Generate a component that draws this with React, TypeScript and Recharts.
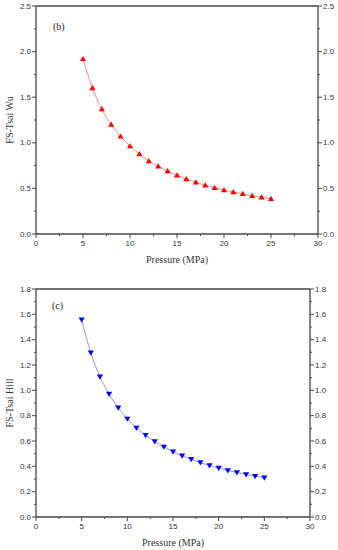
import React from 'react';
import { LineChart, Line, XAxis, YAxis, ReferenceLine } from 'recharts';

const pressure = [5, 6, 7, 8, 9, 10, 11, 12, 13, 14, 15, 16, 17, 18, 19, 20, 21, 22, 23, 24, 25];
const tsaiWu = [1.92, 1.6, 1.37, 1.2, 1.07, 0.965, 0.876, 0.8, 0.742, 0.69, 0.643, 0.603, 0.567, 0.535, 0.507, 0.482, 0.46, 0.44, 0.42, 0.403, 0.387];
const tsaiHill = [1.557, 1.297, 1.108, 0.972, 0.862, 0.775, 0.703, 0.646, 0.596, 0.554, 0.516, 0.483, 0.456, 0.43, 0.407, 0.387, 0.368, 0.352, 0.335, 0.322, 0.31];

const xTicks = [0, 2.5, 5, 7.5, 10, 12.5, 15, 17.5, 20, 22.5, 25, 27.5, 30];
const xMajor = [0, 5, 10, 15, 20, 25, 30];
const yTicksB = [0, 0.25, 0.5, 0.75, 1.0, 1.25, 1.5, 1.75, 2.0, 2.25, 2.5];
const yMajorB = [0, 0.5, 1.0, 1.5, 2.0, 2.5];
const yTicksC = [0, 0.1, 0.2, 0.3, 0.4, 0.5, 0.6, 0.7, 0.8, 0.9, 1.0, 1.1, 1.2, 1.3, 1.4, 1.5, 1.6, 1.7, 1.8];
const yMajorC = [0, 0.2, 0.4, 0.6, 0.8, 1.0, 1.2, 1.4, 1.6, 1.8];

const dataB = pressure.map((p, i) => ({ p, v: tsaiWu[i] }));
const dataC = pressure.map((p, i) => ({ p, v: tsaiHill[i] }));

const AXIS = '#444';
const TICKFONT = '"Liberation Sans", Arial, sans-serif';
const SERIF = '"Liberation Serif", "Times New Roman", serif';

const isMajor = (list: number[], v: number) => list.some((m) => Math.abs(m - v) < 1e-6);

const XTick = (props: any) => {
  const { x, y, payload } = props;
  const major = isMajor(xMajor, payload.value);
  return (
    <g>
      <line x1={x} x2={x} y1={y} y2={y + (major ? 4 : 2)} stroke={AXIS} strokeWidth={1} />
      {major && (
        <text x={x} y={y + 9} textAnchor="middle" dominantBaseline="central" fontSize={8} fontFamily={TICKFONT} fill="#333" stroke="none">
          {payload.value}
        </text>
      )}
    </g>
  );
};

const makeYTick = (majors: number[], side: 'left' | 'right') => (props: any) => {
  const { x, y, payload } = props;
  const major = isMajor(majors, payload.value);
  const dir = side === 'left' ? -1 : 1;
  return (
    <g>
      <line x1={x} x2={x + dir * (major ? 4 : 2)} y1={y} y2={y} stroke={AXIS} strokeWidth={1} />
      {major && (
        <text x={x + dir * 5} y={y} textAnchor={side === 'left' ? 'end' : 'start'} dominantBaseline="central" fontSize={8} fontFamily={TICKFONT} fill="#333" stroke="none">
          {payload.value.toFixed(1)}
        </text>
      )}
    </g>
  );
};

const triUp = (color: string) => (props: any) => {
  const { cx, cy, index } = props;
  return <path key={`u${index}`} d={`M${cx},${cy - 3} L${cx - 3.1},${cy + 2.2} L${cx + 3.1},${cy + 2.2} Z`} fill={color} stroke="none" />;
};
const triDown = (color: string) => (props: any) => {
  const { cx, cy, index } = props;
  return <path key={`d${index}`} d={`M${cx},${cy + 3} L${cx - 3.1},${cy - 2.2} L${cx + 3.1},${cy - 2.2} Z`} fill={color} stroke="none" />;
};

const yLabel = (text: string) => (props: any) => {
  const vb = props.viewBox || {};
  const cx = 9;
  const cy = vb.y + vb.height / 2;
  return (
    <g>
      <text x={cx} y={cy} transform={`rotate(-90, ${cx}, ${cy})`} textAnchor="middle" dominantBaseline="central" fontSize={10} fontFamily={SERIF} fill="#333" stroke="none">
        {text}
      </text>
    </g>
  );
};

const xLabelProps = (offset: number) => ({
  value: 'Pressure (MPa)',
  position: 'insideBottom' as const,
  offset,
  fontSize: 10,
  fontFamily: SERIF,
  fill: '#333',
  stroke: 'none',
});

export default function App() {
  return (
    <div style={{ position: 'absolute', left: 0, top: 0, width: 338, height: 550, background: '#fff' }}>
      <LineChart width={338} height={275} data={dataB} margin={{ top: 6, right: 0, bottom: 0, left: 0 }}>
        <XAxis dataKey="p" type="number" domain={[0, 30]} ticks={xTicks} interval={0} height={41}
          tick={XTick} tickLine={false} tickSize={0} tickMargin={0}
          axisLine={{ stroke: AXIS, strokeWidth: 1.3 }} label={xLabelProps(12)} />
        <YAxis yAxisId="left" type="number" domain={[0, 2.5]} ticks={yTicksB} interval={0} width={36}
          tick={makeYTick(yMajorB, 'left')} tickLine={false} tickSize={0} tickMargin={0}
          axisLine={{ stroke: AXIS, strokeWidth: 1.3 }} label={yLabel('FS-Tsai Wu')} />
        <YAxis yAxisId="right" orientation="right" type="number" domain={[0, 2.5]} ticks={yTicksB} interval={0} width={20}
          tick={makeYTick(yMajorB, 'right')} tickLine={false} tickSize={0} tickMargin={0}
          axisLine={{ stroke: AXIS, strokeWidth: 1.3 }} allowDataOverflow />
        <ReferenceLine yAxisId="left" y={2.5} stroke={AXIS} strokeWidth={1.3} />
        <ReferenceLine yAxisId="left" y={2.5} stroke="none"
          label={{ value: '(b)', position: 'insideTopLeft', offset: 0, dx: 17, dy: 17, fontSize: 10, fontFamily: SERIF, fill: '#222' }} />
        <Line yAxisId="left" type="monotone" dataKey="v" stroke="#ff8c8c" strokeWidth={1} dot={triUp('#ff0000')} isAnimationActive={false} />
      </LineChart>
      <LineChart width={338} height={275} data={dataC} margin={{ top: 14, right: 0, bottom: 0, left: 0 }}>
        <XAxis dataKey="p" type="number" domain={[0, 30]} ticks={xTicks} interval={0} height={33}
          tick={XTick} tickLine={false} tickSize={0} tickMargin={0}
          axisLine={{ stroke: AXIS, strokeWidth: 1.3 }} label={xLabelProps(4)} />
        <YAxis yAxisId="left" type="number" domain={[0, 1.8]} ticks={yTicksC} interval={0} width={36}
          tick={makeYTick(yMajorC, 'left')} tickLine={false} tickSize={0} tickMargin={0}
          axisLine={{ stroke: AXIS, strokeWidth: 1.3 }} label={yLabel('FS-Tsai Hill')} />
        <YAxis yAxisId="right" orientation="right" type="number" domain={[0, 1.8]} ticks={yTicksC} interval={0} width={28}
          tick={makeYTick(yMajorC, 'right')} tickLine={false} tickSize={0} tickMargin={0}
          axisLine={{ stroke: AXIS, strokeWidth: 1.3 }} allowDataOverflow />
        <ReferenceLine yAxisId="left" y={1.8} stroke={AXIS} strokeWidth={1.3} />
        <ReferenceLine yAxisId="left" y={1.8} stroke="none"
          label={{ value: '(c)', position: 'insideTopLeft', offset: 0, dx: 16, dy: 13, fontSize: 10, fontFamily: SERIF, fill: '#222' }} />
        <Line yAxisId="left" type="monotone" dataKey="v" stroke="#9494ff" strokeWidth={1} dot={triDown('#0000ff')} isAnimationActive={false} />
      </LineChart>
    </div>
  );
}
